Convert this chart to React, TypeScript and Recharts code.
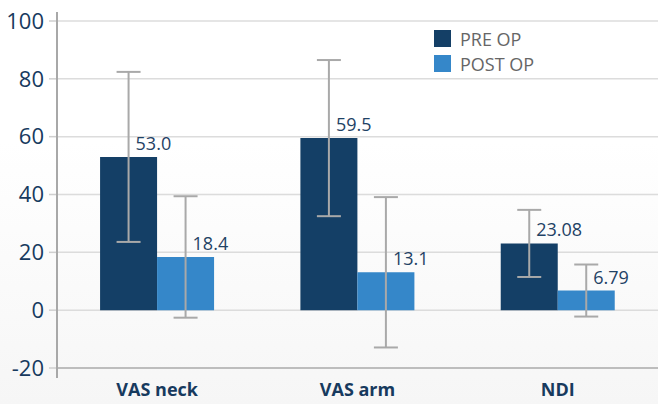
import React from "react";
import {
  BarChart,
  Bar,
  XAxis,
  YAxis,
  CartesianGrid,
  ErrorBar,
  LabelList,
} from "recharts";

const categories = ["VAS neck", "VAS arm", "NDI"];
const preOp = [53.0, 59.5, 23.08];
const postOp = [18.4, 13.1, 6.79];
const preErr = [29.4, 27.0, 11.6];
const postErr = [21.0, 26.0, 9.0];
const preLabels = ["53.0", "59.5", "23.08"];
const postLabels = ["18.4", "13.1", "6.79"];
const yTicks = [-20, 0, 20, 40, 60, 80, 100];

const PRE = "#143f66";
const POST = "#3587c9";
const NAVY = "#173a5e";
const FONT = "'Open Sans', 'Noto Sans', sans-serif";

const data = categories.map((c, i) => ({
  name: c,
  pre: preOp[i],
  post: postOp[i],
  preErr: preErr[i],
  postErr: postErr[i],
  preLabel: preLabels[i],
  postLabel: postLabels[i],
}));

const BarLabel = (props: any) => {
  const { x, y, width, value } = props;
  return (
    <text
      x={x + width / 2 + 7}
      y={y - 7}
      fill="#1f4265"
      fontSize={18}
      fontFamily={FONT}
      textAnchor="start"
    >
      {value}
    </text>
  );
};

const LegendBox = () => (
  <div
    style={{
      position: "absolute",
      left: 434,
      top: 26,
      fontFamily: FONT,
      fontSize: 18,
      color: "#666",
    }}
  >
    {[
      ["PRE OP", PRE],
      ["POST OP", POST],
    ].map(([label, color]) => (
      <div key={label} style={{ display: "flex", alignItems: "center", height: 25 }}>
        <span style={{ width: 17, height: 17, background: color, marginRight: 9 }} />
        <span>{label}</span>
      </div>
    ))}
  </div>
);

const App = () => {
  return (
    <div
      style={{
        position: "absolute",
        left: 0,
        top: 0,
        width: 658,
        height: 404,
        background: "linear-gradient(#ffffff 0%, #ffffff 35%, #f6f6f6 100%)",
      }}
    >
      <BarChart
        width={658}
        height={404}
        data={data}
        margin={{ top: 21, right: 0, bottom: 0, left: 0 }}
        barCategoryGap="21.5%"
        barGap={0}
      >
        <CartesianGrid vertical={false} stroke="#dcdcdc" strokeWidth={1.5} />
        <XAxis
          dataKey="name"
          height={36}
          tickLine={false}
          axisLine={{ stroke: "#bdbdbd", strokeWidth: 2 }}
          tick={{ fill: NAVY, fontSize: 18, fontWeight: 700, fontFamily: FONT }}
          tickMargin={9}
        />
        <YAxis
          width={57}
          domain={[-20, 100]}
          ticks={yTicks}
          interval={0}
          tickSize={8}
          tickMargin={5}
          tickLine={{ stroke: "#cfcfcf", strokeWidth: 1.5 }}
          axisLine={false}
          tick={{ fill: NAVY, fontSize: 22, fontFamily: FONT }}
        />
        <Bar dataKey="pre" fill={PRE} isAnimationActive={false}>
          <ErrorBar dataKey="preErr" width={12} stroke="#a9a9a9" strokeWidth={2} />
          <LabelList dataKey="preLabel" content={BarLabel} />
        </Bar>
        <Bar dataKey="post" fill={POST} isAnimationActive={false}>
          <ErrorBar dataKey="postErr" width={12} stroke="#a9a9a9" strokeWidth={2} />
          <LabelList dataKey="postLabel" content={BarLabel} />
        </Bar>
      </BarChart>
      {/* y axis line, drawn a little past the plot like the original */}
      <div
        style={{
          position: "absolute",
          left: 56,
          top: 12,
          width: 1.5,
          height: 366,
          background: "#a8a8a8",
        }}
      />
      <LegendBox />
    </div>
  );
};

export default App;
